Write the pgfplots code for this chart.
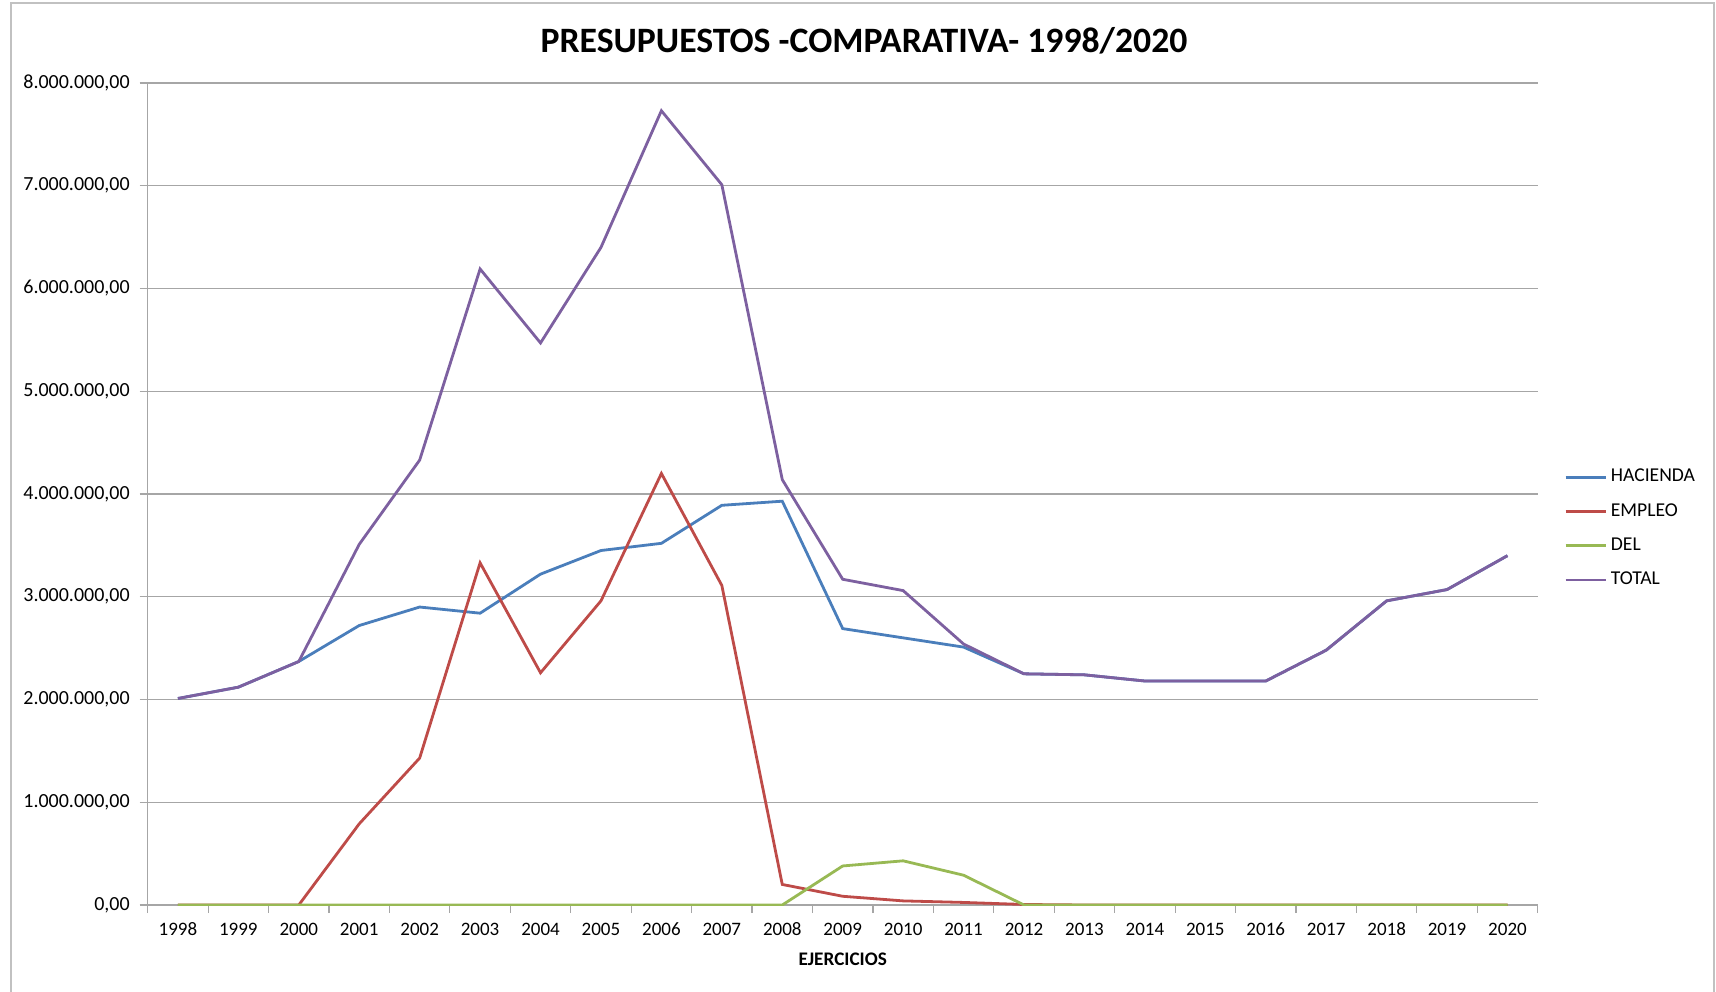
\documentclass[border=0pt]{standalone}
\usepackage{fontspec}
\setmainfont{Carlito}
\usepackage{pgfplots}
\usepackage{pgfplotstable}
\pgfplotsset{compat=1.18}
\definecolor{hacienda}{HTML}{4A7EBB}
\definecolor{empleo}{HTML}{BE4B48}
\definecolor{del}{HTML}{98B954}
\definecolor{total}{HTML}{7D60A0}
\definecolor{gridgray}{HTML}{A6A6A6}

% x = 0..22 -> ejercicios 1998..2020
\pgfplotstableread{
x hacienda empleo del total
0  2010000 0       0      2010000
1  2120000 0       0      2120000
2  2370000 0       0      2370000
3  2720000 790000  0      3510000
4  2900000 1430000 0      4330000
5  2840000 3330000 0      6190000
6  3220000 2260000 0      5470000
7  3450000 2960000 0      6400000
8  3520000 4200000 0      7730000
9  3890000 3110000 0      7010000
10 3930000 200000  0      4140000
11 2690000 85000   380000 3170000
12 2600000 40000   430000 3060000
13 2510000 25000   290000 2540000
14 2250000 5000    0      2250000
15 2240000 0       0      2240000
16 2180000 0       0      2180000
17 2180000 0       0      2180000
18 2180000 0       0      2180000
19 2480000 0       0      2480000
20 2960000 0       0      2960000
21 3070000 0       0      3070000
22 3400000 0       0      3400000
}\datos

\begin{document}
\begin{tikzpicture}
\useasboundingbox (0,0) rectangle (858pt,495.5pt);
\draw[gridgray!70, line width=0.6pt] (5.5pt,-5pt) -- (5.5pt,494pt) -- (857pt,494pt) -- (857pt,-5pt);
\node[font=\bfseries\fontsize{17.85}{20}\selectfont, anchor=center] at (432pt,475.3pt) {PRESUPUESTOS -COMPARATIVA- 1998/2020};
\begin{axis}[
    at={(73.85pt,43pt)}, anchor=south west,
    width=695pt, height=411pt, scale only axis,
    xmin=-0.5, xmax=22.5,
    ymin=0, ymax=8000000,
    axis lines=left,
    axis line style={-, draw=gridgray, line width=0.6pt},
    xtick=data,
    xticklabels={1998,1999,2000,2001,2002,2003,2004,2005,2006,2007,2008,2009,2010,2011,2012,2013,2014,2015,2016,2017,2018,2019,2020},
    minor xtick={-0.5,0.5,...,22.5},
    ytick={0,1000000,...,8000000},
    minor ytick={0,1000000,...,8000000},
    major tick length=0pt,
    minor tick length=4pt,
    tick align=outside,
    tick style={draw=gridgray, line width=0.6pt},
    ymajorgrids,
    grid style={draw=gridgray, line width=0.6pt},
    scaled y ticks=false,
    /pgf/number format/fixed,
    /pgf/number format/fixed zerofill,
    /pgf/number format/precision=2,
    /pgf/number format/use comma,
    /pgf/number format/1000 sep={.},
    /pgf/number format/assume math mode=true,
    y tick label style={font=\fontsize{10}{12}\selectfont, anchor=east, inner sep=0pt, xshift=-8.8pt},
    x tick label style={font=\fontsize{9.5}{11}\selectfont, anchor=center, inner sep=0pt, yshift=-12pt},
    xlabel={EJERCICIOS},
    xlabel style={font=\bfseries\fontsize{9.6}{11}\selectfont, at={(axis description cs:0.5,0)}, anchor=center, yshift=-27pt},
    legend style={at={(1,0.458)}, anchor=west, xshift=13pt, draw=none, fill=none,
      font=\fontsize{9.8}{12}\selectfont, row sep=5.3pt, inner sep=0pt},
    legend cell align=left,
    legend image code/.code={\draw[#1] (0pt,0pt) -- (20pt,0pt);},
    every axis plot/.append style={line width=1.4pt},
]
\addplot[hacienda] table[x=x, y=hacienda] {\datos};
\addplot[empleo] table[x=x, y=empleo] {\datos};
\addplot[del] table[x=x, y=del] {\datos};
\addplot[total] table[x=x, y=total] {\datos};
\legend{HACIENDA, EMPLEO, DEL, TOTAL}
\end{axis}
\end{tikzpicture}
\end{document}
